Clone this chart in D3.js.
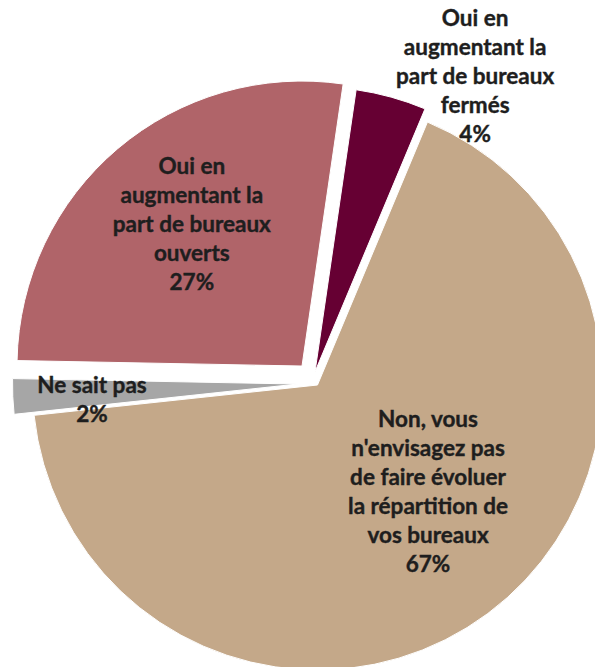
<!DOCTYPE html>
<html>
<head>
<meta charset="utf-8">
<script src="https://cdn.jsdelivr.net/npm/d3@7"></script>
<style>
  body { margin: 0; background: #fff; }
  .slice-label { font-family: Lato, "Open Sans", sans-serif; font-weight: 700; fill: #1e1e1e; stroke: #1e1e1e; stroke-width: 0.4px; }
</style>
</head>
<body>
<div class="chart"></div>
<script>
// data
const categories = ["fermés", "non", "nsp", "ouverts"];
const values = [4, 67, 2, 27];
const labelLines = [
  ["Oui en", "augmentant la", "part de bureaux", "fermés", "4%"],
  ["Non, vous", "n'envisagez pas", "de faire évoluer", "la répartition de", "vos bureaux", "67%"],
  ["Ne sait pas", "2%"],
  ["Oui en", "augmentant la", "part de bureaux", "ouverts", "27%"]
];

const width = 595;
const height = 667;
const radius = 285;
const cx = 313, cy = 379;
const startDeg = 8.3;
const lineHeight = 29;
const capHeight = 15;

const color = d3.scaleOrdinal()
  .domain(categories)
  .range(["#660033", "#C4A889", "#A6A6A6", "#B06469"]);

// how far each slice is pulled out: [distance, direction in deg or null = slice middle]
const explode = { "fermés": [7.5, null], "non": [7.5, null], "nsp": [16.3, 252], "ouverts": [17, null] };
// label placement: angle (deg, clockwise from top) and distance from centre
const labelPos = {
  "fermés": [28.2, 343],
  "non": [134.4, 161],
  "nsp": [264.6, 222],
  "ouverts": [321.8, 196]
};

const rad = d => d * Math.PI / 180;

const svg = d3.select(".chart")
  .append("svg")
    .attr("width", width)
    .attr("height", height);

const pie = d3.pie()
  .sort(null)
  .value(d => d.value)
  .startAngle(rad(startDeg))
  .endAngle(rad(startDeg) + 2 * Math.PI);

const arc = d3.arc()
  .innerRadius(0)
  .outerRadius(radius);

const arcs = pie(categories.map((c, i) => ({ key: c, value: values[i], lines: labelLines[i] })));

const chart = svg.append("g")
  .attr("transform", `translate(${cx},${cy})`);

chart.selectAll(".slice")
  .data(arcs)
  .enter().append("path")
    .attr("class", "slice")
    .attr("d", arc)
    .attr("transform", d => {
      const [e, dir] = explode[d.data.key];
      const a = dir === null ? (d.startAngle + d.endAngle) / 2 : rad(dir);
      return `translate(${e * Math.sin(a)},${-e * Math.cos(a)})`;
    })
    .style("fill", d => color(d.data.key))
    .style("stroke", "#fff")
    .style("stroke-width", "1px");

//labels
const labels = chart.selectAll(".slice-label")
  .data(arcs)
  .enter().append("text")
    .attr("class", "slice-label")
    .attr("text-anchor", "middle")
    .style("font-size", "22.5px")
    .attr("transform", d => {
      const [a, r] = labelPos[d.data.key];
      const n = d.data.lines.length;
      const x = r * Math.sin(rad(a));
      const y = -r * Math.cos(rad(a)) - ((n - 1) * lineHeight - capHeight) / 2;
      return `translate(${x},${y})`;
    });

labels.selectAll("tspan")
  .data(d => d.data.lines)
  .enter().append("tspan")
    .attr("x", 0)
    .attr("y", (d, i) => i * lineHeight)
    .text(d => d);
</script>
</body>
</html>
